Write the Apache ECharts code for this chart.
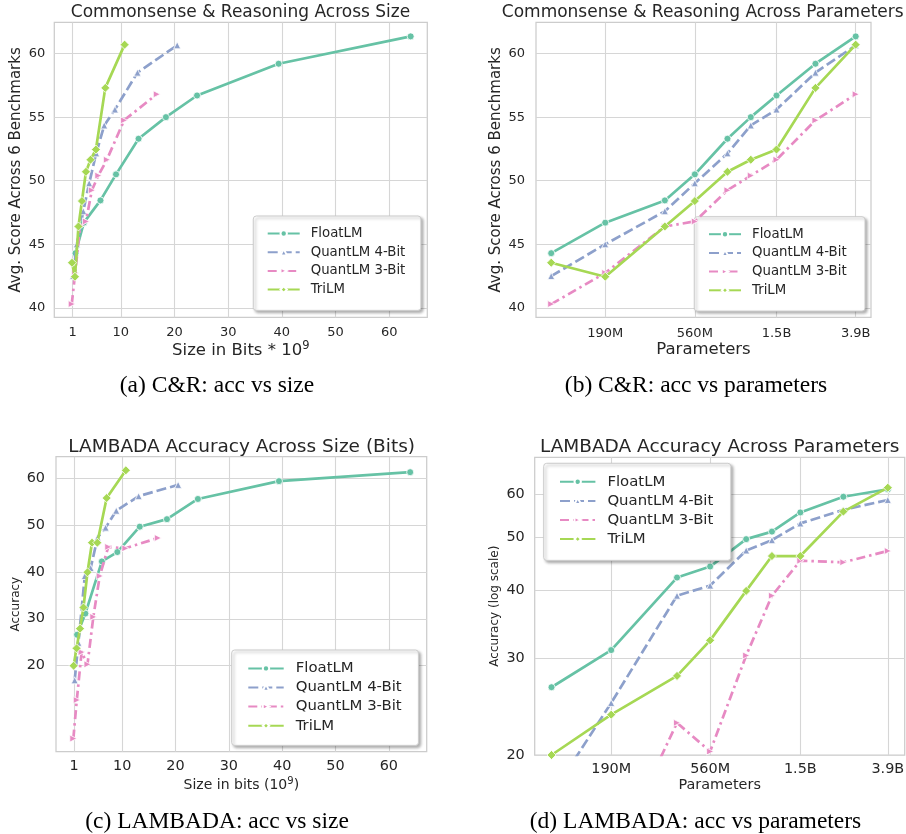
<!DOCTYPE html>
<html>
<head>
<meta charset="utf-8">
<script src="https://cdn.jsdelivr.net/npm/echarts@6/dist/echarts.min.js"></script>
<style>
  html, body { margin: 0; padding: 0; background: #fff; }
  #chart { width: 906px; height: 834px; }
</style>
</head>
<body>
<div id="chart"></div>
<script>
// Model families and parameter counts (millions)
const seriesNames = ['FloatLM', 'QuantLM 4-Bit', 'QuantLM 3-Bit', 'TriLM'];
const params = [99, 190, 390, 560, 830, 1100, 1500, 2400, 3900];

// Tick values and labels
const paramTicks = [190, 560, 1500, 3900];
const paramTickLabels = ['190M', '560M', '1.5B', '3.9B'];
const sizeTicks = [1, 10, 20, 30, 40, 50, 60];
const crTicks = [40, 45, 50, 55, 60];
const lambadaTicks = [20, 30, 40, 50, 60];

// Model size in bits (x 10^9) per family
const floatSize  = [1.55, 3.1, 6.2, 9.1, 13.3, 18.4, 24.2, 39.4, 64.0];
const quant4Size = [1.1, 1.8, 3.0, 4.1, 5.4, 6.9, 8.9, 13.1, 20.5];
const quant3Size = [0.85, 1.5, 2.4, 3.5, 4.6, 5.8, 7.4, 10.6, 16.7];
const triSize    = [0.9, 1.45, 2.1, 2.75, 3.5, 4.35, 5.35, 7.1, 10.7];

// Commonsense & reasoning: average score across 6 benchmarks
const floatCR  = [44.3, 46.7, 48.45, 50.5, 53.3, 55.0, 56.7, 59.2, 61.35];
const quant4CR = [42.5, 45.0, 47.6, 49.8, 52.15, 54.35, 55.6, 58.5, 60.65];
const quant3CR = [40.3, 42.75, 46.4, 46.8, 49.25, 50.4, 51.65, 54.75, 56.8];
const triCR    = [43.55, 42.45, 46.4, 48.4, 50.7, 51.65, 52.45, 57.3, 60.7];

// LAMBADA accuracy
const floatLB  = [26.6, 31.1, 42.2, 44.2, 49.6, 51.2, 55.5, 59.3, 61.2];
const quant4LB = [16.9, 24.9, 39.1, 40.8, 47.3, 49.4, 53.0, 56.1, 58.5];
const quant3LB = [4.5, 12.7, 22.9, 20.3, 30.4, 39.1, 45.3, 45.0, 47.2];
const triLB    = [20.0, 23.7, 27.9, 32.4, 39.9, 46.2, 46.2, 55.7, 61.6];

const FONT = 'DejaVu Sans';
const SERIF = 'Liberation Serif';
const INK = '#262626';
const GRID_LINE = '#d6d6d6';
const FRAME = '#cccccc';

const looks = [
  { color: '#66c2a5', type: 'solid',         symbol: 'circle',   size: 7, rotate: 0 },
  { color: '#8da0cb', type: [10, 4],          symbol: 'triangle', size: 7, rotate: 0 },
  { color: '#e78ac3', type: [9, 4, 2.5, 4],   symbol: 'triangle', size: 7, rotate: -90 },
  { color: '#a6d854', type: 'solid',         symbol: 'diamond',  size: 9, rotate: 0 }
];

const panels = [
  { xs: [floatSize, quant4Size, quant3Size, triSize], ys: [floatCR, quant4CR, quant3CR, triCR] },
  { xs: [params, params, params, params],             ys: [floatCR, quant4CR, quant3CR, triCR] },
  { xs: [floatSize, quant4Size, quant3Size, triSize], ys: [floatLB, quant4LB, quant3LB, triLB] },
  { xs: [params, params, params, params],             ys: [floatLB, quant4LB, quant3LB, triLB] }
];

function pairs(xs, ys) { return xs.map((x, i) => [x, ys[i]]); }

function paramLabel(v) {
  const i = paramTicks.findIndex(t => Math.abs(t - v) < 1e-6 * t);
  return i < 0 ? '' : paramTickLabels[i];
}

function makeAxis(o) {
  return {
    gridIndex: o.grid,
    type: o.type,
    min: o.min,
    max: o.max,
    name: o.name,
    nameLocation: 'middle',
    nameGap: o.nameGap,
    nameTextStyle: {
      color: INK, fontFamily: FONT, fontSize: o.nameSize,
      rich: {
        sup: { color: INK, fontFamily: FONT, fontSize: o.supSize || 11, verticalAlign: 'bottom', padding: [0, 0, o.supLift || 8, 0] }
      }
    },
    axisLine: { show: false },
    axisTick: { show: false, customValues: o.ticks },
    splitLine: { show: true, lineStyle: { color: GRID_LINE, width: 1.1 } },
    axisLabel: {
      color: INK, fontFamily: FONT, fontSize: o.labelSize, margin: o.margin,
      customValues: o.ticks,
      formatter: o.formatter
    }
  };
}

const grids = [
  { left: 54.3, top: 22.4, width: 373, height: 295 },
  { left: 536, top: 22.4, width: 335, height: 295 },
  { left: 56, top: 456.7, width: 370.7, height: 295 },
  { left: 534.7, top: 457.3, width: 370, height: 297.7 }
].map(g => Object.assign(g, {
  show: true, borderColor: FRAME, borderWidth: 1.25, backgroundColor: '#fff',
  containLabel: false, outerBoundsMode: 'none'
}));

const xAxes = [
  makeAxis({ grid: 0, type: 'value', min: -2.4, max: 67.1, ticks: sizeTicks, name: 'Size in Bits * 10{sup|9}', supSize: 11.5, supLift: 9, nameGap: 20, nameSize: 16.5, labelSize: 13, margin: 9 }),
  makeAxis({ grid: 1, type: 'log', min: 82.4, max: 4690, ticks: paramTicks, formatter: paramLabel, name: 'Parameters', nameGap: 24, nameSize: 16.5, labelSize: 13, margin: 10 }),
  makeAxis({ grid: 2, type: 'value', min: -2.4, max: 67.1, ticks: sizeTicks, name: 'Size in bits (10{sup|9})', supSize: 10, supLift: 7, nameGap: 25, nameSize: 14, labelSize: 14.4, margin: 8 }),
  makeAxis({ grid: 3, type: 'log', min: 82.4, max: 4690, ticks: paramTicks, formatter: paramLabel, name: 'Parameters', nameGap: 23, nameSize: 14.4, labelSize: 14.4, margin: 7 })
];

const yAxes = [
  makeAxis({ grid: 0, type: 'value', min: 39.25, max: 62.45, ticks: crTicks, name: 'Avg. Score Across 6 Benchmarks', nameGap: 31, nameSize: 15, labelSize: 13, margin: 9 }),
  makeAxis({ grid: 1, type: 'value', min: 39.25, max: 62.45, ticks: crTicks, name: 'Avg. Score Across 6 Benchmarks', nameGap: 32.5, nameSize: 15, labelSize: 13, margin: 11 }),
  makeAxis({ grid: 2, type: 'value', min: 1.7, max: 64.5, ticks: lambadaTicks, name: 'Accuracy', nameGap: 34, nameSize: 12, labelSize: 14.4, margin: 11 }),
  makeAxis({ grid: 3, type: 'log', min: 20, max: 70, ticks: lambadaTicks, name: 'Accuracy (log scale)', nameGap: 34, nameSize: 12, labelSize: 14.4, margin: 10 })
];

const series = [];
panels.forEach((p, pi) => {
  looks.forEach((lk, m) => {
    series.push({
      type: 'line',
      name: seriesNames[m],
      xAxisIndex: pi,
      yAxisIndex: pi,
      data: pairs(p.xs[m], p.ys[m]),
      symbol: lk.symbol,
      symbolSize: lk.size,
      symbolRotate: lk.rotate,
      showSymbol: true,
      clip: true,
      z: 2 + m,
      lineStyle: { color: lk.color, width: 2.7, type: lk.type },
      itemStyle: { color: lk.color, borderColor: '#ffffff', borderWidth: 0.8 },
      emphasis: { disabled: true },
      animation: false
    });
  });
});

function legendBox(left, top, fontSize, iconWidth, pad, textGap) {
  return {
    orient: 'vertical',
    left: left,
    top: top,
    data: seriesNames,
    selectedMode: false,
    itemWidth: iconWidth,
    itemHeight: 8,
    itemGap: 19 - fontSize,
    padding: pad,
    backgroundColor: '#ffffff',
    borderColor: FRAME,
    borderWidth: 1,
    borderRadius: 3,
    shadowColor: 'rgba(0,0,0,0.3)',
    shadowBlur: 3,
    shadowOffsetX: 2,
    shadowOffsetY: 2,
    textStyle: { color: INK, fontFamily: FONT, fontSize: fontSize, padding: [0, 0, 0, textGap] }
  };
}

const legends = [
  legendBox(253.3, 216, 13.3, 32, [11, 15.6, 14.3, 13.4], 6),
  legendBox(694.3, 216.7, 13.3, 32, [11, 18.4, 14.3, 13.7], 6),
  legendBox(231.7, 650, 14.9, 35.4, [10.9, 16.8, 12.2, 15.6], 7),
  legendBox(543.7, 463.3, 14.9, 35.4, [11, 17.5, 13.8, 15.3], 7)
];

function label(x, y, text, size, family, fill) {
  return {
    type: 'text', x: x, y: y, silent: true,
    style: {
      text: text, fontSize: size, fontFamily: family, fill: fill,
      align: 'center', verticalAlign: 'middle',
      textAlign: 'center', textVerticalAlign: 'middle'
    }
  };
}

const graphics = [
  label(240.5, 13, 'Commonsense & Reasoning Across Size', 17, FONT, INK),
  label(702.7, 13, 'Commonsense & Reasoning Across Parameters', 17, FONT, INK),
  label(241.7, 447, 'LAMBADA Accuracy Across Size (Bits)', 18.5, FONT, INK),
  label(719.7, 447, 'LAMBADA Accuracy Across Parameters', 18.5, FONT, INK),
  label(217, 386, '(a) C&R: acc vs size', 23.5, SERIF, '#000'),
  label(696, 386, '(b) C&R: acc vs parameters', 23.5, SERIF, '#000'),
  label(217, 822, '(c) LAMBADA: acc vs size', 23.5, SERIF, '#000'),
  label(695.5, 822, '(d) LAMBADA: acc vs parameters', 23.5, SERIF, '#000')
];

const chart = echarts.init(document.getElementById('chart'), null, { renderer: 'canvas', width: 906, height: 834 });
chart.setOption({
  backgroundColor: '#ffffff',
  animation: false,
  grid: grids,
  xAxis: xAxes,
  yAxis: yAxes,
  legend: legends,
  series: series,
  graphic: graphics
});
</script>
</body>
</html>
